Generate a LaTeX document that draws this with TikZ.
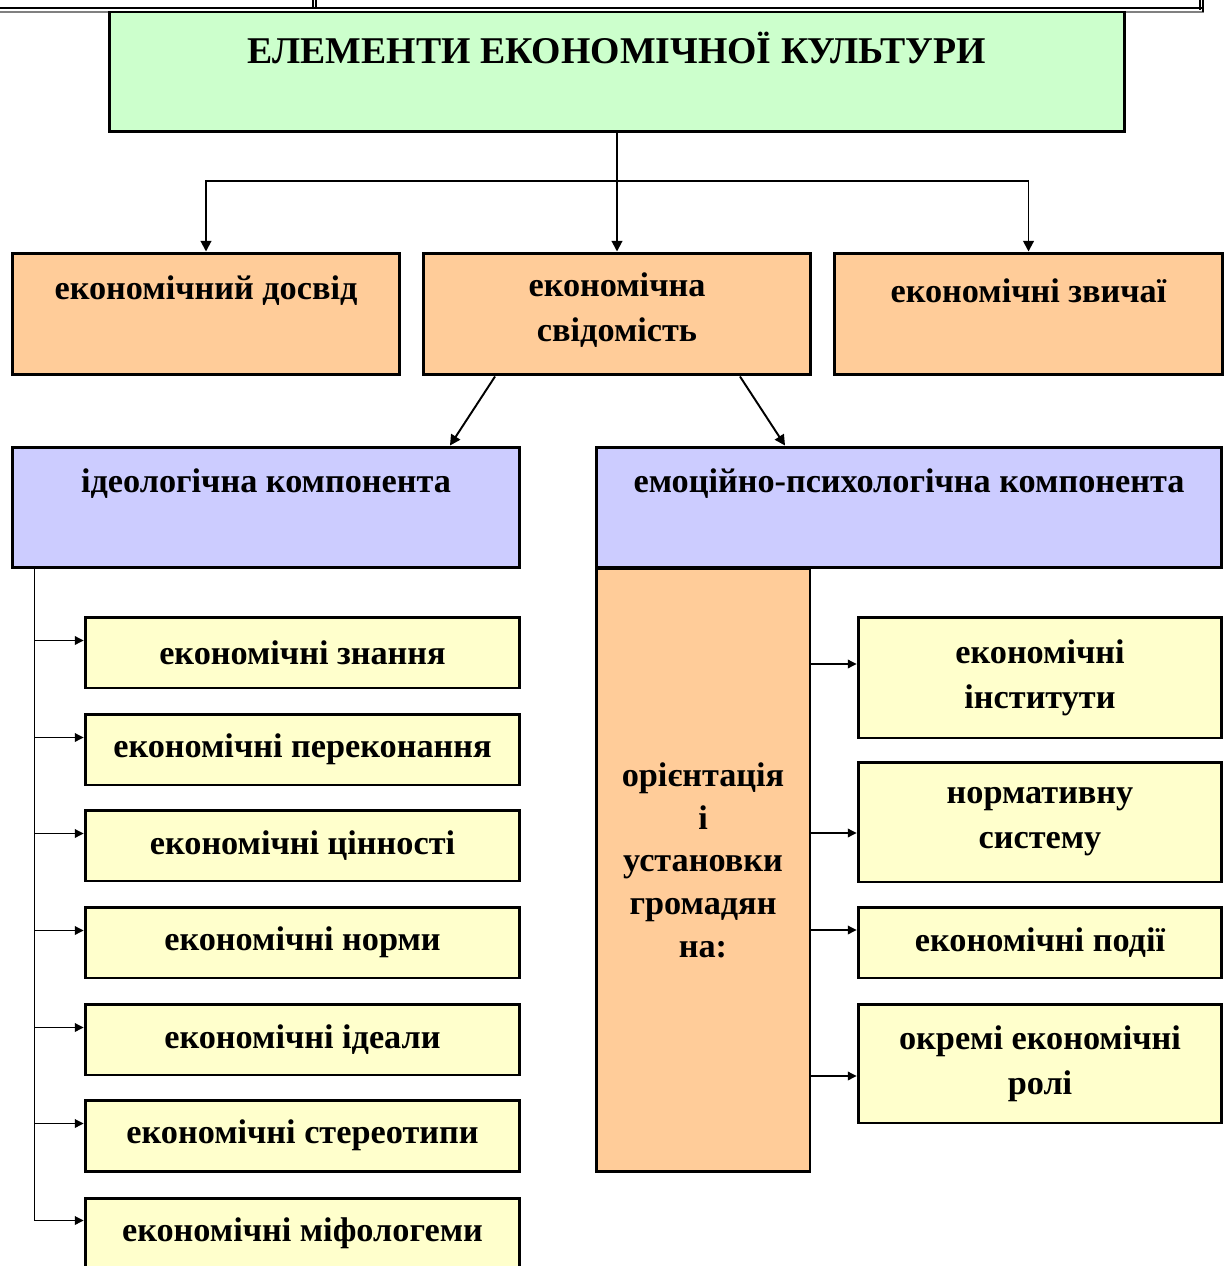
\documentclass[tikz,border=0pt]{standalone}
\usepackage{fontspec}
\setmainfont{Liberation Serif}
\usepackage{tikz}
\usetikzlibrary{positioning, arrows.meta}

\definecolor{topgreen}{HTML}{CCFFCC}
\definecolor{grporange}{HTML}{FFCC99}
\definecolor{compblue}{HTML}{CCCCFF}
\definecolor{itemyellow}{HTML}{FFFFCC}

\begin{document}
\begin{tikzpicture}[
    x=0.02cm, y=-0.02cm,
    box/.style={rectangle, draw, line width=1.7pt, inner sep=0pt},
    topbox/.style={box, fill=topgreen, minimum width=20.3cm, minimum height=2.4cm},
    grpbox/.style={box, fill=grporange, minimum width=7.75cm, minimum height=2.44cm},
    compbox/.style={box, fill=compblue, minimum height=2.42cm},
    itembox/.style={box, fill=itemyellow, minimum width=8.7cm, minimum height=1.42cm, align=center, font=\bfseries\fontsize{19.5}{25}\selectfont},
    rolebox/.style={box, fill=itemyellow, minimum width=7.28cm, align=center, font=\bfseries\fontsize{19.5}{25.5}\selectfont},
    lbl/.style={align=center, inner sep=0pt, font=\bfseries\fontsize{19.5}{25.5}\selectfont},
    arr/.style={-{Triangle[length=6pt, width=6pt]}, line width=1.1pt},
    thinarr/.style={-{Triangle[length=5pt, width=5pt]}, line width=0.6pt}
]
\useasboundingbox (0,0) rectangle (1229,1266);

% table edge above the scheme
\draw[line width=1.6pt] (0,8) -- (1204,8);
\draw[gray, line width=0.6pt] (0,12) -- (1204,12);
\draw[line width=0.6pt] (313,0) -- (313,8) (316,0) -- (316,8);
\draw[line width=0.6pt] (1200,0) -- (1200,10) (1203,0) -- (1203,12);

% Top level
\node[topbox] (elem) at (617,72) {};
\node[lbl, font=\bfseries\fontsize{21.5}{25}\selectfont] (elem-t) at ([yshift=-0.74cm]elem.north) {ЕЛЕМЕНТИ ЕКОНОМІЧНОЇ КУЛЬТУРИ};

% Second level
\node[grpbox] (dosvid) at (206,314) {};
\node[grpbox] (svid) at (617,314) {};
\node[grpbox] (zvych) at (1028.5,314) {};
\node[lbl] (dosvid-t) at ([yshift=-0.78cm]dosvid.north) {економічний досвід};
\node[lbl] (svid-t) at ([yshift=-1.17cm]svid.north) {економічна\\свідомість};
\node[lbl] (zvych-t) at ([yshift=-0.78cm]zvych.north) {економічні звичаї};

% Components
\node[compbox, minimum width=10.16cm] (ideol) at (266,507.5) {};
\node[compbox, minimum width=12.52cm] (emot) at (909,507.5) {};
\node[lbl] (ideol-t) at ([yshift=-0.76cm]ideol.north) {ідеологічна компонента};
\node[lbl] (emot-t) at ([yshift=-0.76cm]emot.north) {емоційно-психологічна компонента};

% Ideological items
\node[itembox] (znan) at (302.5,652.5) {економічні знання};
\node[itembox] (perek) at (302.5,749.5) {економічні переконання};
\node[itembox] (tsinn) at (302.5,845.5) {економічні цінності};
\node[itembox] (norm) at (302.5,942.5) {економічні норми};
\node[itembox] (ideal) at (302.5,1039.5) {економічні ідеали};
\node[itembox] (stereo) at (302.5,1135.5) {економічні стереотипи};
\node[itembox] (mif) at (302.5,1233.5) {економічні міфологеми};

% Orientation block
\node[box, fill=grporange, minimum width=4.28cm, minimum height=12.08cm, align=center,
      text depth=0.4cm, font=\bfseries\fontsize{19.5}{24.4}\selectfont] (orient) at (703,870)
      {орієнтація\\і\\установки\\громадян\\на:};
\node[rolebox, minimum height=2.42cm] (inst) at (1040,677.5) {економічні\\інститути};
\node[rolebox, minimum height=2.4cm] (normsys) at (1040,822) {нормативну\\систему};
\node[rolebox, minimum height=1.42cm] (podii) at (1040,942.5) {економічні події};
\node[rolebox, minimum height=2.38cm] (roli) at (1040,1063.5) {окремі економічні\\ролі};

% Connections
\coordinate (split) at (617,181);
\draw[line width=1.1pt] (elem.south) -- (split);
\draw[arr] (split) -- (svid.north);
\draw[arr] (split) -| (dosvid.north);
\draw[arr] (split) -| (zvych.north);
\draw[arr] ([xshift=-2.44cm]svid.south) -- ([xshift=3.68cm]ideol.north);
\draw[arr] ([xshift=2.46cm]svid.south) -- ([xshift=-2.48cm]emot.north);

\draw[thinarr] ([xshift=0.48cm]ideol.south west) |- ([yshift=0.24cm]znan.west);
\draw[thinarr] ([xshift=0.48cm]ideol.south west) |- ([yshift=0.24cm]perek.west);
\draw[thinarr] ([xshift=0.48cm]ideol.south west) |- ([yshift=0.24cm]tsinn.west);
\draw[thinarr] ([xshift=0.48cm]ideol.south west) |- ([yshift=0.24cm]norm.west);
\draw[thinarr] ([xshift=0.48cm]ideol.south west) |- ([yshift=0.24cm]ideal.west);
\draw[thinarr] ([xshift=0.48cm]ideol.south west) |- ([yshift=0.24cm]stereo.west);
\draw[thinarr] ([xshift=0.48cm]ideol.south west) |- ([yshift=0.26cm]mif.west);

\draw[thinarr] ([yshift=0.27cm]orient.east |- inst.west) -- ([yshift=0.27cm]inst.west);
\draw[thinarr] ([yshift=-0.22cm]orient.east |- normsys.west) -- ([yshift=-0.22cm]normsys.west);
\draw[thinarr] ([yshift=0.25cm]orient.east |- podii.west) -- ([yshift=0.25cm]podii.west);
\draw[thinarr] ([yshift=-0.25cm]orient.east |- roli.west) -- ([yshift=-0.25cm]roli.west);

\end{tikzpicture}
\end{document}
